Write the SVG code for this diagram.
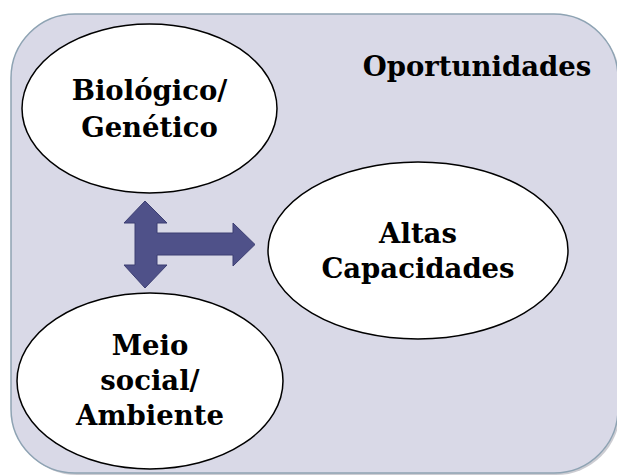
<svg xmlns="http://www.w3.org/2000/svg" width="617" height="475" viewBox="0 0 617 475">
<style>
.node ellipse{fill:#ffffff;stroke:#000000;stroke-width:1.5}
text{font-family:"DejaVu Serif","Liberation Serif",serif;font-weight:bold;font-size:27.5px;fill:#000000;text-anchor:middle}
</style>
<rect width="617" height="475" fill="#ffffff"/>
<g id="background">
<rect x="13" y="16" width="607" height="459" rx="64" ry="64" fill="#9a9aa6" opacity="0.5"/>
<rect x="11" y="14" width="607" height="459" rx="64" ry="64" fill="#d9d9e7" stroke="#8ea3b3" stroke-width="1.5"/>
<text x="477" y="76">Oportunidades</text>
</g>
<g id="connectors">
<path d="M145,201 L167,223 L157,223 L157,233 L233,233 L233,223 L255,244.5 L233,266 L233,255 L157,255 L157,265 L167,265 L145,288 L124,265 L135,265 L135,223 L124,223 Z" fill="#4f5189" stroke="#3c3e72" stroke-width="1"/>
</g>
<g id="biologico" class="node">
<ellipse cx="149.5" cy="108.5" rx="127.5" ry="84.5"/>
<text x="149.5" y="100">Biológico/</text>
<text x="149.5" y="137">Genético</text>
</g>
<g id="altas" class="node">
<ellipse cx="418" cy="250.5" rx="150" ry="88.5"/>
<text x="418" y="243">Altas</text>
<text x="418" y="278">Capacidades</text>
</g>
<g id="meio" class="node">
<ellipse cx="150" cy="381" rx="133" ry="88"/>
<text x="150" y="355">Meio</text>
<text x="150" y="390">social/</text>
<text x="150" y="425">Ambiente</text>
</g>
</svg>
